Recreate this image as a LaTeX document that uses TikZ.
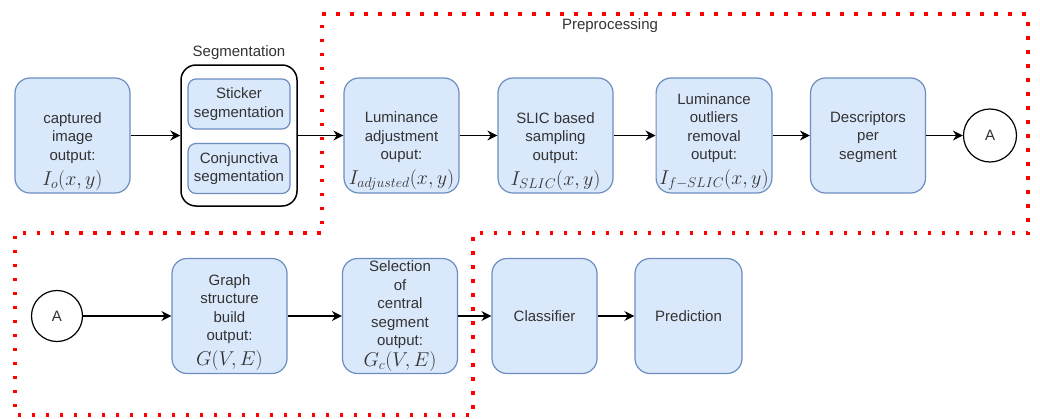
\documentclass[tikz,border=0pt]{standalone}
\usepackage{fix-cm}
\usepackage{fontspec}
\setmainfont{Liberation Sans}
\usetikzlibrary{arrows.meta}

\definecolor{boxfill}{HTML}{DAE8FC}
\definecolor{boxline}{HTML}{6C8EBF}
\definecolor{txtgray}{HTML}{333333}
\newcommand{\formula}[1]{{\fontsize{20}{22}\selectfont$#1$}}
\newcommand{\topgap}[1]{\rule{0pt}{#1pt}}

\begin{document}
\begin{tikzpicture}[x=1pt, y=-1pt,
  stage/.style={shape=rectangle, rounded corners=15pt, draw=boxline, fill=boxfill, line width=1.2pt,
    minimum width=115pt, minimum height=115pt, inner ysep=0pt, align=center, text=txtgray,
    font=\fontsize{15}{18.5}\selectfont},
  substage/.style={stage, rounded corners=8pt, minimum width=102pt, minimum height=50pt},
  connector/.style={shape=circle, draw=black, fill=white, line width=1.2pt, text=txtgray,
    font=\fontsize{15}{18}\selectfont},
  flow/.style={-{Stealth[length=10pt, width=10pt]}, line width=1.3pt, draw=black}]
\useasboundingbox (0,0) rectangle (1040,418);

\draw[red, line width=3.5pt, dash pattern=on 3.5pt off 10.5pt]
  (322,14) -- (1028,14) -- (1028,233) -- (473,233) -- (473,415) -- (15,415) -- (15,233) -- (322,233) -- cycle;
\node[text=txtgray, font=\fontsize{15}{18}\selectfont] (pre) at (610,26) {Preprocessing};

\node[stage] (cap) at (72.5,135.5) {\topgap{42}captured\\image\\output:\\[6.5pt]\formula{I_o(x,y)}};
\node[shape=rectangle, rounded corners=15pt, draw=black, line width=1.5pt, minimum width=116pt, minimum height=141pt,
  label={[text=txtgray, font=\fontsize{15}{18}\selectfont, label distance=1pt]above:Segmentation}] (seg) at (239,135.5) {};
\node[substage] (stk) at (239,104) {Sticker\\segmentation};
\node[substage] (cnj) at (239,168.5) {Conjunctiva\\segmentation};
\node[stage] (lum) at (401.5,135.5) {\topgap{42}Luminance\\adjustment\\ouput:\\[6.5pt]\formula{I_{adjusted}(x,y)}};
\node[stage] (slic) at (555.5,135.5) {\topgap{42}SLIC based\\sampling\\output:\\[6.5pt]\formula{I_{SLIC}(x,y)}};
\node[stage] (outl) at (714,135.5) {\topgap{23.5}Luminance\\outliers\\removal\\output:\\[6.5pt]\formula{I_{f-SLIC}(x,y)}};
\node[stage] (desc) at (868,135.5) {\topgap{14}Descriptors\\per\\segment};
\node[connector, minimum size=53pt] (A1) at (990,135.5) {A};

\node[connector, minimum size=51pt] (A2) at (57,316) {A};
\node[stage] (graph) at (229.5,316) {\topgap{23.5}Graph\\structure\\build\\output:\\[6.5pt]\formula{G(V,E)}};
\node[stage] (sel) at (400,316) {Selection\\of\\central\\segment\\output:\\[2pt]\formula{G_c(V,E)}};
\node[stage, minimum width=105pt] (cls) at (544.5,316) {Classifier};
\node[stage, minimum width=107pt] (pred) at (688.5,316) {Prediction};

\path[flow] (cap) edge (seg);
\path[flow] (seg) edge (lum);
\path[flow] (lum) edge (slic);
\path[flow] (slic) edge (outl);
\path[flow] (outl) edge (desc);
\path[flow] (desc) edge (A1);
\path[flow] (A2) edge (graph);
\path[flow] (graph) edge (sel);
\path[flow] (sel) edge (cls);
\path[flow] (cls) edge (pred);
\end{tikzpicture}
\end{document}
